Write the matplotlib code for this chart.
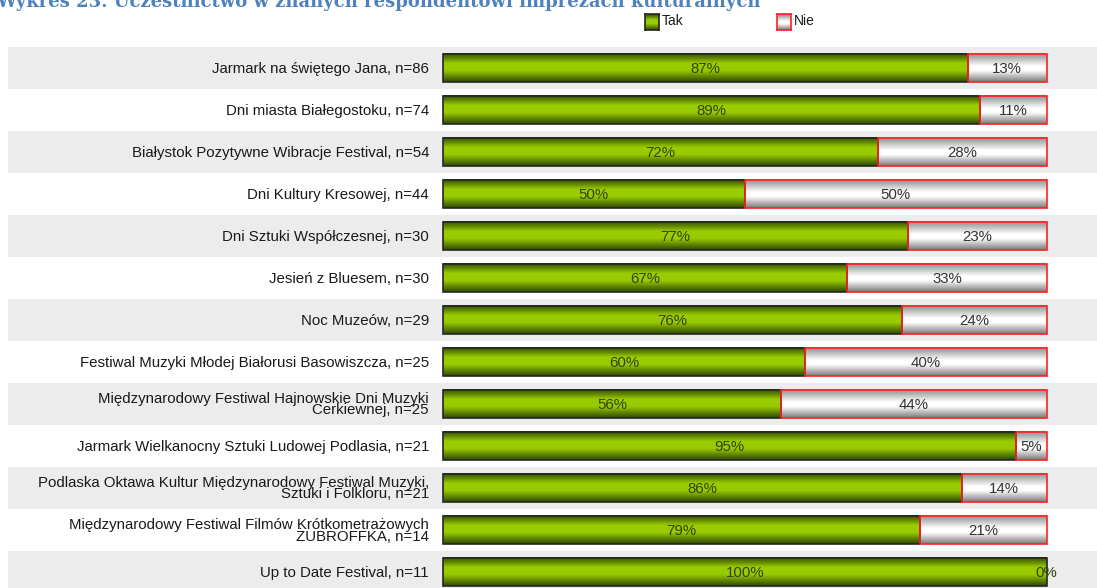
import numpy as np
import matplotlib
matplotlib.use("Agg")
import matplotlib.pyplot as plt
from matplotlib.colors import LinearSegmentedColormap

labels = [
    "Jarmark na świętego Jana, n=86",
    "Dni miasta Białegostoku, n=74",
    "Białystok Pozytywne Wibracje Festival, n=54",
    "Dni Kultury Kresowej, n=44",
    "Dni Sztuki Współczesnej, n=30",
    "Jesień z Bluesem, n=30",
    "Noc Muzeów, n=29",
    "Festiwal Muzyki Młodej Białorusi Basowiszcza, n=25",
    "Międzynarodowy Festiwal Hajnowskie Dni Muzyki\nCerkiewnej, n=25",
    "Jarmark Wielkanocny Sztuki Ludowej Podlasia, n=21",
    "Podlaska Oktawa Kultur Międzynarodowy Festiwal Muzyki,\nSztuki i Folkloru, n=21",
    "Międzynarodowy Festiwal Filmów Krótkometrażowych\nŻUBROFFKA, n=14",
    "Up to Date Festival, n=11",
]
tak = [87, 89, 72, 50, 77, 67, 76, 60, 56, 95, 86, 79, 100]
nie = [13, 11, 28, 50, 23, 33, 24, 40, 44, 5, 14, 21, 0]

title = "Wykres 23. Uczestnictwo w znanych respondentowi imprezach kulturalnych"

green_cm = LinearSegmentedColormap.from_list(
    "g", [(0, "#2f4a00"), (0.35, "#99cc00"), (0.6, "#99cc00"), (1, "#2f4a00")])
grey_cm = LinearSegmentedColormap.from_list(
    "w", [(0, "#8a8a8a"), (0.45, "#ffffff"), (0.6, "#ffffff"), (1, "#7a7a7a")])
grad = np.linspace(0, 1, 64).reshape(-1, 1)

W, H = 1097, 588
fig = plt.figure(figsize=(W / 100, H / 100), dpi=100)
ax = fig.add_axes([0, 0, 1, 1])

# pixel layout: 0% at x=443, 100% at x=1046, first row at y=68, rows 42px apart
px = 6.035
ax.set_xlim(-443 / px, (W - 443) / px)
ax.set_ylim((H - 68) / 42, -68 / 42)
ax.axis("off")

font = "Liberation Sans"
fs = 10.8
bh = 0.667
for i, lab in enumerate(labels):
    if i % 2 == 0:
        ax.barh(i, 200, left=(8 - 443) / px, height=1, color="#ececec", zorder=0)
    ax.text((429 - 443) / px, i + 0.02, lab, ha="right", va="center", fontsize=fs,
            family=font, color="#1a1a1a", linespacing=0.75)

    t, n = tak[i], nie[i]
    ax.imshow(grad, extent=[0, t, i + bh / 2, i - bh / 2], aspect="auto",
              cmap=green_cm, interpolation="bilinear", zorder=2)
    ax.barh(i, t, height=bh, fill=False, edgecolor="#262626", lw=1.2, zorder=3)
    if n > 0:
        ax.imshow(grad, extent=[t, t + n, i + bh / 2, i - bh / 2], aspect="auto",
                  cmap=grey_cm, interpolation="bilinear", zorder=2)
        ax.barh(i, n, left=t, height=bh, fill=False, edgecolor="#ff2020",
                lw=1.2, zorder=3)
    ax.text(t / 2, i + 0.02, f"{t}%", ha="center", va="center", fontsize=fs,
            family=font, color="#34420a", zorder=4)
    ax.text(t + n / 2, i + 0.02, f"{n}%", ha="center", va="center", fontsize=fs,
            family=font, color="#333333" if n > 0 else "#34420a", zorder=4)

ax.set_xlim(-443 / px, (W - 443) / px)
ax.set_ylim((H - 68) / 42, -68 / 42)

# legend
for x0, cm, ec, name in [(645, green_cm, "#262626", "Tak"), (777, grey_cm, "#ff2020", "Nie")]:
    lax = fig.add_axes([x0 / W, 1 - 30 / H, 14 / W, 16 / H])
    lax.imshow(grad, aspect="auto", cmap=cm, interpolation="bilinear")
    lax.set_xticks([])
    lax.set_yticks([])
    for s in lax.spines.values():
        s.set_color(ec)
        s.set_linewidth(1.2)
    fig.text((x0 + 17) / W, 1 - 21 / H, name, ha="left", va="center",
             fontsize=10, family=font, color="#1a1a1a")

# title, cut off at the top edge
fig.text(-4 / W, 1 - 7 / H, title, ha="left", va="baseline", fontsize=13,
         family="DejaVu Serif", fontweight="bold", color="#4f81bd")

fig.savefig("out.png", dpi=100)
